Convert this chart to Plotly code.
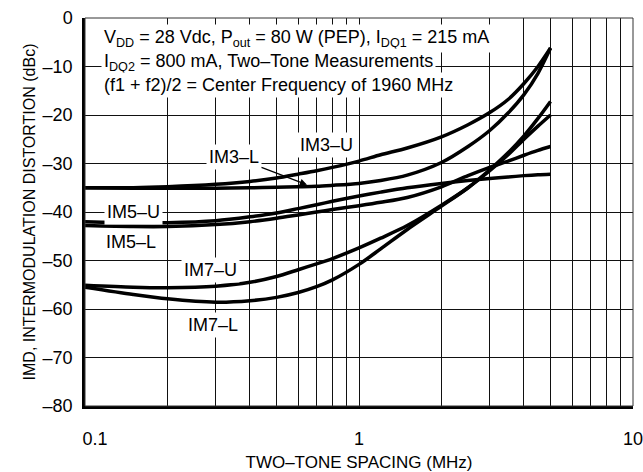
import math
import plotly.graph_objects as go

freq_mhz = [0.1, 0.15, 0.2, 0.3, 0.4, 0.5, 0.6, 0.7, 0.8, 1.0, 1.2, 1.5, 2.0, 2.5, 3.0, 3.5, 4.0, 4.5, 5.0]

im3_u = [-35.0, -35.0, -34.8, -34.3, -33.7, -33.0, -32.2, -31.5, -30.8, -29.5, -28.2, -26.8, -24.5, -22.0, -19.5, -16.8, -13.5, -10.0, -6.2]
im3_l = [-35.0, -35.1, -35.1, -35.1, -35.0, -34.9, -34.8, -34.7, -34.5, -34.1, -33.5, -32.4, -29.8, -26.5, -23.2, -19.6, -15.8, -11.4, -6.2]
im5_u = [-42.0, -42.2, -42.2, -41.8, -41.0, -40.2, -39.3, -38.5, -37.8, -36.7, -35.9, -35.0, -34.1, -33.5, -33.1, -32.8, -32.5, -32.3, -32.2]
im5_l = [-42.8, -43.0, -43.0, -42.6, -42.0, -41.3, -40.6, -40.0, -39.5, -38.7, -38.0, -37.0, -34.8, -32.5, -30.8, -29.5, -28.3, -27.3, -26.5]
im7_u = [-55.1, -55.5, -55.6, -55.3, -54.5, -53.3, -51.9, -50.7, -49.6, -47.4, -45.4, -42.8, -38.6, -35.0, -31.5, -28.2, -25.0, -22.3, -20.0]
im7_l = [-55.5, -57.0, -57.9, -58.6, -58.3, -57.6, -56.6, -55.4, -54.0, -50.8, -47.6, -43.6, -38.8, -35.0, -31.3, -27.8, -24.3, -20.7, -17.2]

series = [("IM3-U", im3_u), ("IM3-L", im3_l), ("IM5-U", im5_u),
          ("IM5-L", im5_l), ("IM7-U", im7_u), ("IM7-L", im7_l)]

y_ticks = [0, -10, -20, -30, -40, -50, -60, -70, -80]
y_tick_text = ["0", "\u201310", "\u201320", "\u201330", "\u201340", "\u201350", "\u201360", "\u201370", "\u201380"]
x_ticks = [0.1, 1, 10]
x_tick_text = ["\u2007\u20070.1", "1", "10"]
x_minor = [0.2, 0.3, 0.4, 0.5, 0.6, 0.7, 0.8, 0.9, 2, 3, 4, 5, 6, 7, 8, 9]

# curve labels: (text, frequency MHz, dBc)
curve_labels = [
    ("IM3\u2013U", 0.764, -26.2),
    ("IM5\u2013U", 0.150, -40.0),
    ("IM5\u2013L", 0.147, -46.2),
    ("IM7\u2013U", 0.286, -52.0),
    ("IM7\u2013L", 0.293, -63.3),
]
im3l_label = ("IM3\u2013L", 0.646, -34.4)

info_lines = [
    "V<sub>DD</sub> = 28 Vdc, P<sub>out</sub> = 80 W (PEP), I<sub>DQ1</sub> = 215 mA",
    "I<sub>DQ2</sub> = 800 mA, Two\u2013Tone Measurements",
    "(f1 + f2)/2 = Center Frequency of 1960 MHz",
]

FONT = "Liberation Sans, Arial, sans-serif"

fig = go.Figure()
for name, vals in series:
    fig.add_trace(go.Scatter(x=freq_mhz, y=vals, mode="lines", name=name,
                             line=dict(color="black", width=3.5, shape="spline", smoothing=0.8),
                             showlegend=False, hoverinfo="skip"))

grid = "#111111"
fig.update_xaxes(type="log", range=[-1, 1], tickvals=x_ticks, ticktext=x_tick_text,
                 showgrid=True, gridcolor=grid, gridwidth=1, automargin=False,
                 minor=dict(tickvals=x_minor, showgrid=True, gridcolor=grid, gridwidth=1, ticks=""),
                 showline=True, linecolor="black", linewidth=2.5, ticks="", zeroline=False,
                 ticklabelstandoff=15, ticklabeloverflow="allow",
                 title=dict(text="TWO\u2013TONE SPACING (MHz)", standoff=16,
                            font=dict(size=17, color="black", family=FONT)),
                 tickfont=dict(size=18, color="black", family=FONT))
fig.update_yaxes(range=[-80, 0], tickvals=y_ticks, ticktext=y_tick_text,
                 showgrid=True, gridcolor=grid, gridwidth=1, zeroline=False, automargin=False,
                 showline=True, linecolor="black", linewidth=2.5, ticks="",
                 ticklabelstandoff=6,
                 title=dict(text="IMD, INTERMODULATION DISTORTION (dBc)", standoff=4,
                            font=dict(size=16, color="black", family=FONT)),
                 tickfont=dict(size=18, color="black", family=FONT))

fig.add_shape(type="rect", xref="paper", yref="paper", x0=0, y0=0, x1=1, y1=1,
              line=dict(color="#333", width=1), layer="above")

afont = dict(size=18, color="black", family=FONT)
ys = [0.948, 0.886, 0.828]
for t, yy in zip(info_lines, ys):
    fig.add_annotation(text=t, xref="paper", yref="paper", x=0.03, y=yy,
                       xanchor="left", yanchor="middle", showarrow=False,
                       bgcolor="white", borderpad=2, font=afont)

for t, fx, yy in curve_labels:
    fig.add_annotation(text=t, x=math.log10(fx), y=yy, showarrow=False,
                       bgcolor="white", borderpad=2, font=afont)

t, fx, yy = im3l_label
fig.add_annotation(text=t, x=math.log10(fx), y=yy, ax=-73, ay=-28,
                   showarrow=True, arrowhead=2, arrowsize=1.2, arrowwidth=1.2, arrowcolor="black",
                   bgcolor="white", borderpad=2, font=afont)

fig.update_layout(width=643, height=472, margin=dict(l=85, r=10, t=18, b=66),
                  paper_bgcolor="white", plot_bgcolor="white",
                  font=dict(family=FONT, color="black"))

fig.write_html("out.html")
